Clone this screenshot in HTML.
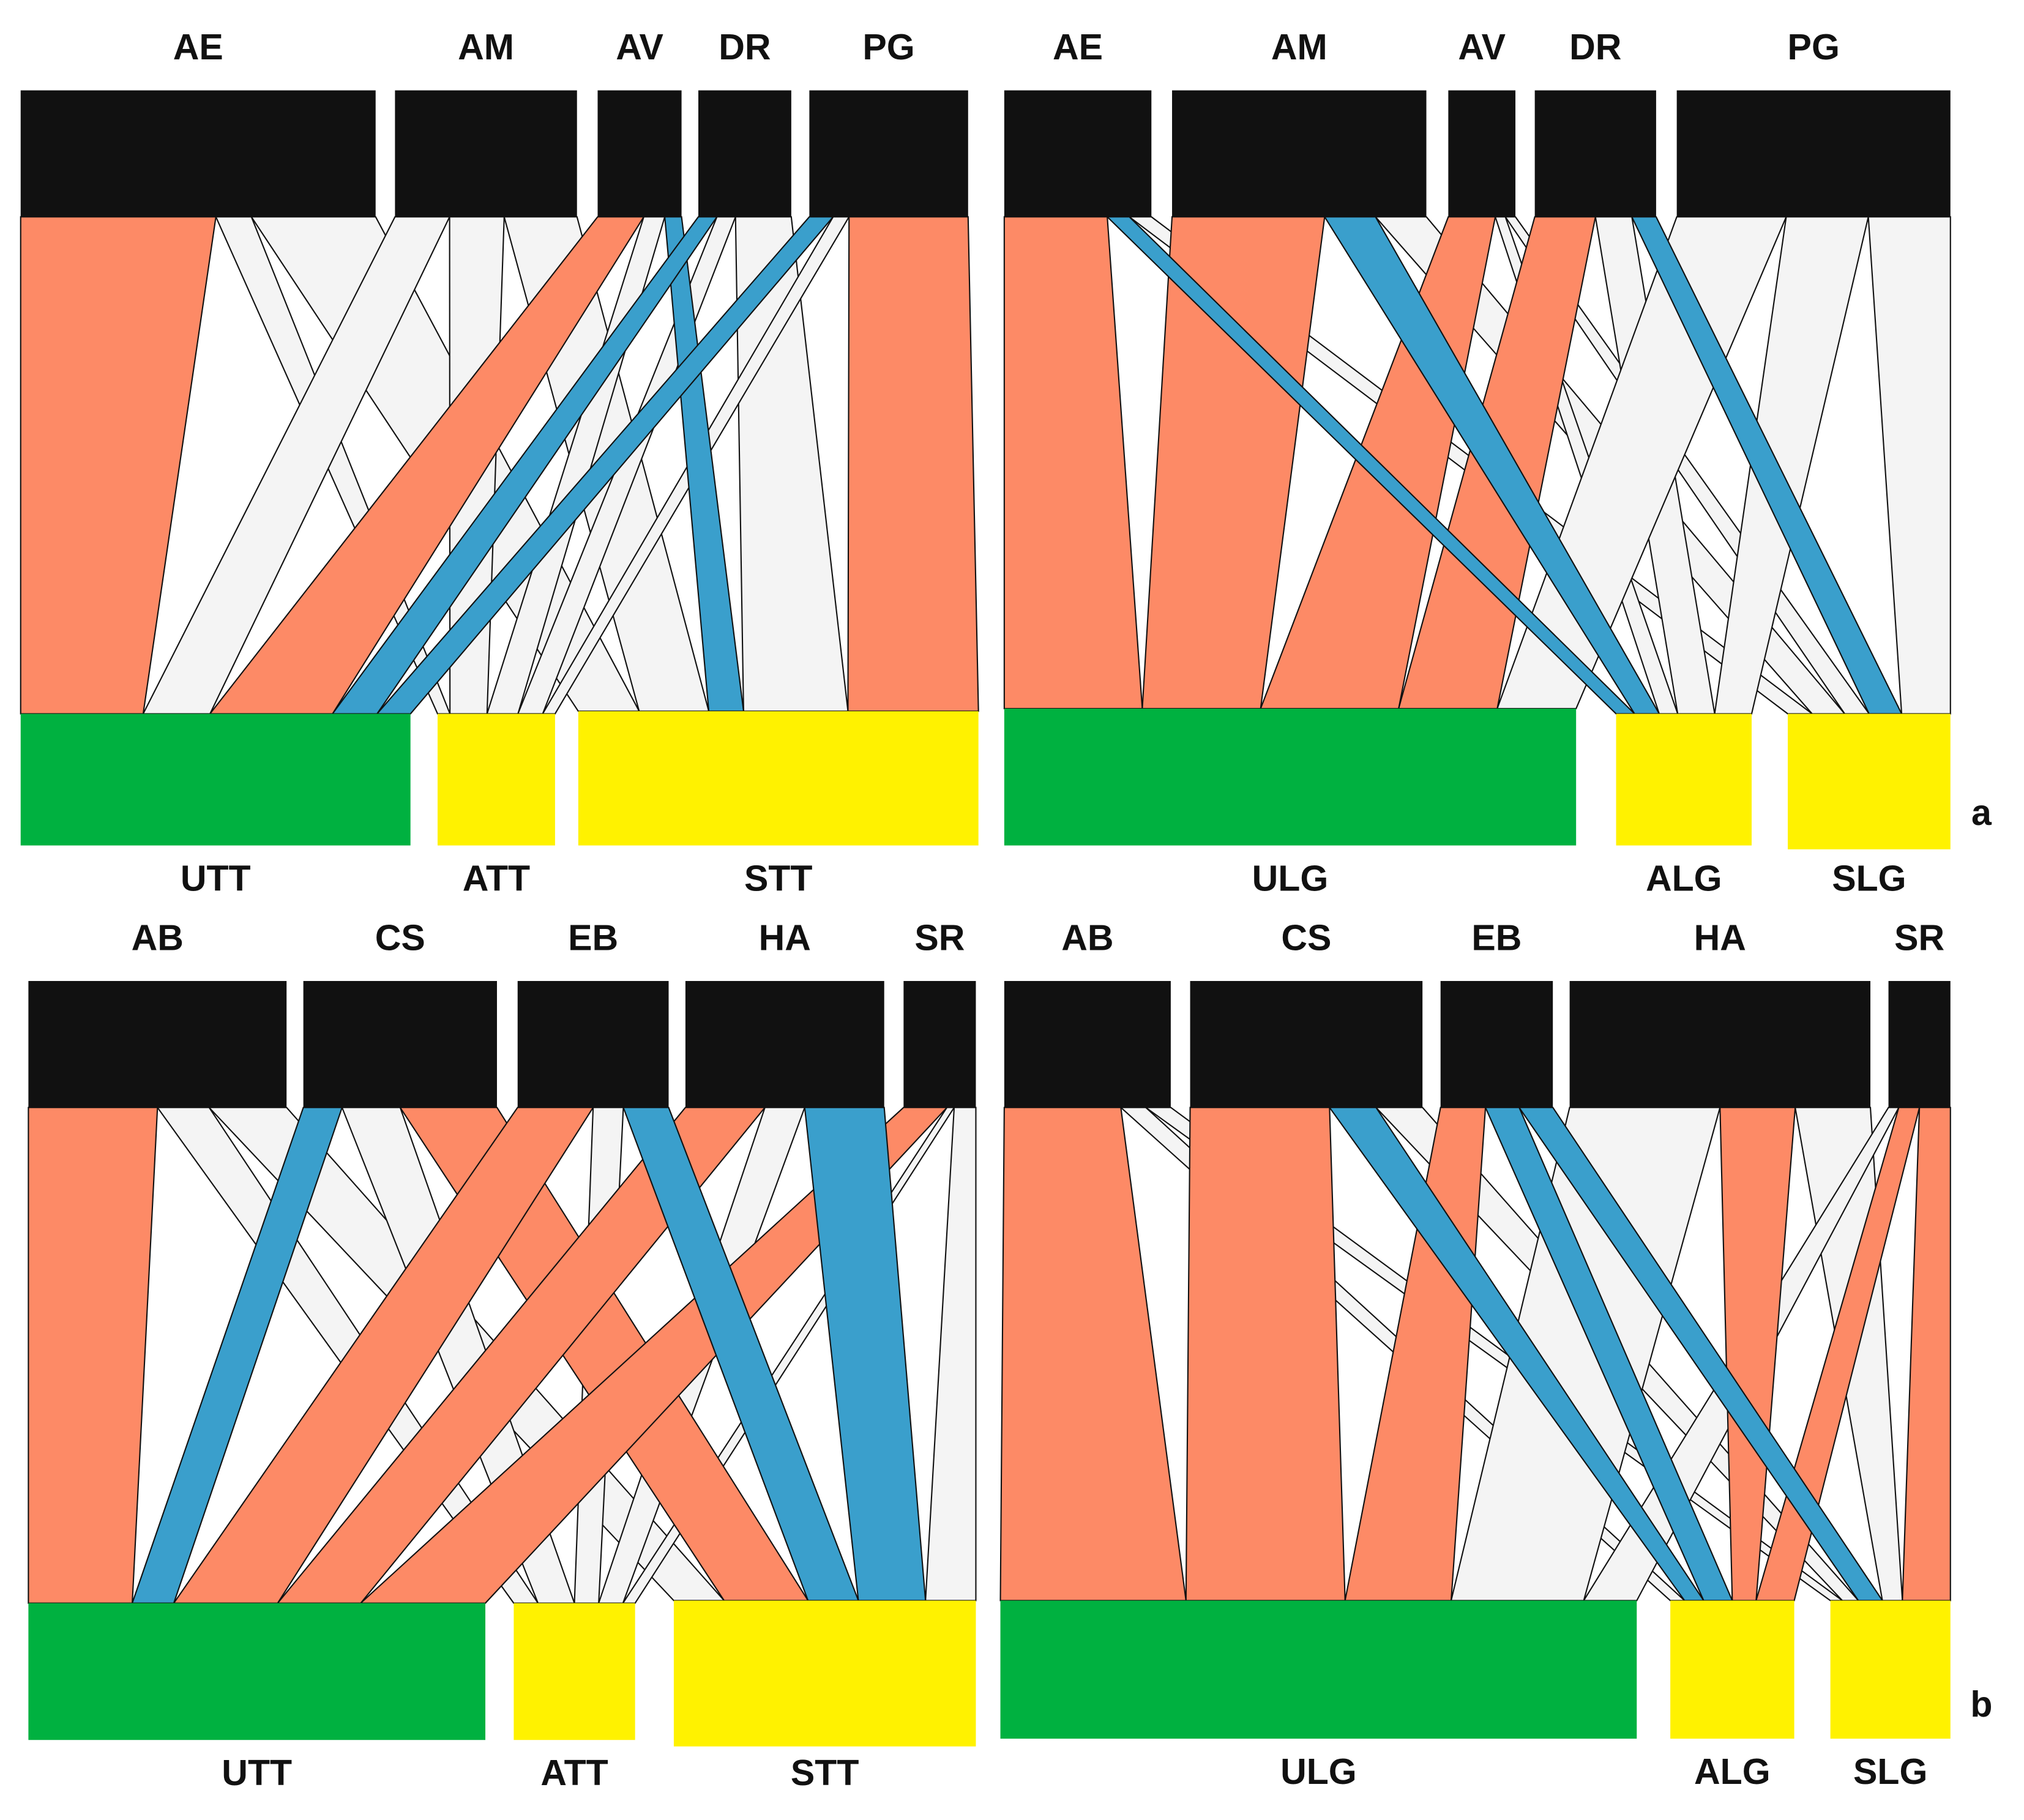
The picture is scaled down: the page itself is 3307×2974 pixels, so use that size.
<!DOCTYPE html>
<html><head><meta charset="utf-8"><style>
html,body{margin:0;padding:0;background:#fff;}
svg{display:block;}
text{font-family:"Liberation Sans",sans-serif;font-weight:bold;font-size:28px;fill:#111;}
</style></head><body>
<svg id="chart" width="3307" height="2974" viewBox="0 0 1568 1410" preserveAspectRatio="none" xmlns="http://www.w3.org/2000/svg">
<rect x="0" y="0" width="1568" height="1410" fill="#fff"/>
</svg>
<script>
const COLORS={o:"#fd8a66",b:"#3a9fcc",l:"#f4f4f4"};
// Panel a-left
const aLeftTop=["AE","AM","AV","DR","PG"];
const aLeftBottom=["UTT","ATT","STT"];
const aLeftFlows=[[0,0,55,"o"],[0,1,10,"l"],[0,2,35,"l"],[1,0,30,"l"],[1,1,30,"l"],[1,2,40,"l"],[2,0,55,"o"],[2,1,25,"l"],[2,2,20,"b"],[3,0,20,"b"],[3,1,20,"l"],[3,2,60,"l"],[4,0,15,"b"],[4,1,10,"l"],[4,2,75,"o"]];
// Panel a-right
const aRightTop=["AE","AM","AV","DR","PG"];
const aRightBottom=["ULG","ALG","SLG"];
const aRightFlows=[[0,0,70,"o"],[0,1,15,"b"],[0,2,15,"l"],[1,0,60,"o"],[1,1,20,"b"],[1,2,20,"l"],[2,0,70,"o"],[2,1,15,"l"],[2,2,15,"l"],[3,0,50,"o"],[3,1,30,"l"],[3,2,20,"b"],[4,0,40,"l"],[4,1,30,"l"],[4,2,30,"l"]];
// Panel b-left
const bLeftTop=["AB","CS","EB","HA","SR"];
const bLeftBottom=["UTT","ATT","STT"];
const bLeftFlows=[[0,0,50,"o"],[0,1,20,"l"],[0,2,30,"l"],[1,0,20,"b"],[1,1,30,"l"],[1,2,50,"o"],[2,0,50,"o"],[2,1,20,"l"],[2,2,30,"b"],[3,0,40,"o"],[3,1,20,"l"],[3,2,40,"b"],[4,0,60,"o"],[4,1,10,"l"],[4,2,30,"l"]];
// Panel b-right
const bRightTop=["AB","CS","EB","HA","SR"];
const bRightBottom=["ULG","ALG","SLG"];
const bRightFlows=[[0,0,70,"o"],[0,1,15,"l"],[0,2,15,"l"],[1,0,60,"o"],[1,1,20,"b"],[1,2,20,"l"],[2,0,40,"o"],[2,1,30,"b"],[2,2,30,"b"],[3,0,50,"l"],[3,1,25,"o"],[3,2,25,"l"],[4,0,20,"l"],[4,1,40,"o"],[4,2,60,"o"]];

// layout (geometry, not data)
const panels=[
 {name:"a-left",top:aLeftTop,bottom:aLeftBottom,flows:aLeftFlows,
  tb:[[16,291],[306,447],[463,528],[541,613],[627,750]],ty:[70,168],
  bb:[[16,318],[339,430],[448,758]],by:[[553,655],[553,655],[551,655]]},
 {name:"a-right",top:aRightTop,bottom:aRightBottom,flows:aRightFlows,
  tb:[[778,892],[908,1105],[1122,1174],[1189,1283],[1299,1511]],ty:[70,168],
  bb:[[778,1221],[1252,1357],[1385,1511]],by:[[549,655],[553,655],[553,658]],tag:"a"},
 {name:"b-left",top:bLeftTop,bottom:bLeftBottom,flows:bLeftFlows,
  tb:[[22,222],[235,385],[401,518],[531,685],[700,756]],ty:[760,858],
  bb:[[22,376],[398,492],[522,756]],by:[[1242,1348],[1242,1348],[1240,1353]]},
 {name:"b-right",top:bRightTop,bottom:bRightBottom,flows:bRightFlows,
  tb:[[778,907],[922,1102],[1116,1203],[1216,1449],[1463,1511]],ty:[760,858],
  bb:[[775,1268],[1294,1390],[1418,1511]],by:[[1240,1347],[1240,1347],[1240,1347]],tag:"b"}
];
const NS="http://www.w3.org/2000/svg";
const svg=document.getElementById("chart");
function mk(tag,attrs,parent){const e=document.createElementNS(NS,tag);for(const k in attrs)e.setAttribute(k,attrs[k]);(parent||svg).appendChild(e);return e;}
const bottomColors=["#00b140","#fff200","#fff200"];
panels.forEach(p=>{
  const g=mk("g",{});
  
  
  const nT=p.top.length,nB=p.bottom.length;
  const sT=new Array(nT).fill(0),sB=new Array(nB).fill(0);
  p.flows.forEach(f=>{sT[f[0]]+=f[2];sB[f[1]]+=f[2];});
  const tPos={},bPos={};
  for(let i=0;i<nT;i++){let x=p.tb[i][0];const w=p.tb[i][1]-p.tb[i][0];
    p.flows.filter(f=>f[0]===i).sort((a,b)=>a[1]-b[1]).forEach(f=>{const fw=f[2]/sT[i]*w;tPos[f[0]+"-"+f[1]]=[x,x+fw];x+=fw;});}
  for(let j=0;j<nB;j++){let x=p.bb[j][0];const w=p.bb[j][1]-p.bb[j][0];
    p.flows.filter(f=>f[1]===j).sort((a,b)=>a[0]-b[0]).forEach(f=>{const fw=f[2]/sB[j]*w;bPos[f[0]+"-"+f[1]]=[x,x+fw];x+=fw;});}
  const order=["l","o","b"];
  order.forEach(c=>{
    p.flows.filter(f=>f[3]===c).forEach(f=>{
      const k=f[0]+"-"+f[1];const t=tPos[k],b=bPos[k];
      const y1=p.ty[1],y2=p.by[f[1]][0];
      const poly=mk("polygon",{points:`${t[0]},${y1} ${t[1]},${y1} ${b[1]},${y2} ${b[0]},${y2}`,fill:COLORS[c],stroke:"#111","stroke-width":1},g);
      
      
    });
  });
  p.top.forEach((lab,i)=>{
    const r=mk("rect",{x:p.tb[i][0],y:p.ty[0],width:p.tb[i][1]-p.tb[i][0],height:p.ty[1]-p.ty[0],fill:"#111"},g);
    
    
    const t=mk("text",{x:(p.tb[i][0]+p.tb[i][1])/2,y:p.ty[0]-24,"text-anchor":"middle"},g);
    t.textContent=lab;
    
    
  });
  p.bottom.forEach((lab,j)=>{
    const r=mk("rect",{x:p.bb[j][0],y:p.by[j][0],width:p.bb[j][1]-p.bb[j][0],height:p.by[j][1]-p.by[j][0],fill:bottomColors[j]},g);
    
    
    const t=mk("text",{x:(p.bb[j][0]+p.bb[j][1])/2,y:p.by[0][1]+35,"text-anchor":"middle"},g);
    t.textContent=lab;
    
    
  });
  if(p.tag){
    const t=mk("text",{x:1535,y:p.by[0][0]+90,"text-anchor":"middle","font-size":"34"},g);
    t.textContent=p.tag;
    
    
  }
});
</script>
</body></html>
